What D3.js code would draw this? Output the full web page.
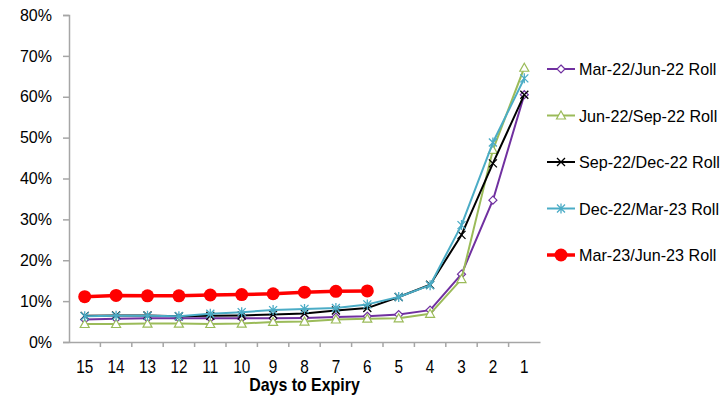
<!DOCTYPE html>
<html>
<head>
<meta charset="utf-8">
<script src="https://cdn.jsdelivr.net/npm/d3@7"></script>
<style>
  body { margin: 0; background: #fff; }
  text { font-family: "Liberation Sans", Arial, sans-serif; fill: #000; }
</style>
</head>
<body>
<svg id="chart" width="723" height="397"></svg>
<script>
// days to expiry (categories)
var days = ["15", "14", "13", "12", "11", "10", "9", "8", "7", "6", "5", "4", "3", "2", "1"];

// roll % values
var mar22jun22 = [5.5, 5.7, 5.8, 5.8, 5.8, 5.8, 5.8, 5.9, 6.1, 6.3, 6.7, 7.8, 16.6, 34.7, 60.5];
var jun22sep22 = [4.4, 4.4, 4.5, 4.5, 4.4, 4.5, 4.9, 5.0, 5.5, 5.7, 5.8, 6.9, 15.4, 47.0, 67.1];
var sep22dec22 = [6.4, 6.5, 6.5, 6.3, 6.4, 6.5, 6.7, 7.0, 7.7, 8.3, 11.0, 14.0, 26.2, 43.7, 60.5];
var dec22mar23 = [6.3, 6.4, 6.4, 6.3, 6.9, 7.3, 7.8, 8.1, 8.3, 9.2, 11.0, 13.9, 28.6, 48.8, 64.5];
var mar23jun23 = [11.1, 11.4, 11.3, 11.3, 11.5, 11.6, 11.8, 12.2, 12.4, 12.5];

var yTicks = [0, 10, 20, 30, 40, 50, 60, 70, 80];

var series = [
  { name: "Mar-22/Jun-22 Roll", values: mar22jun22, color: "#7030A0", marker: "diamond", width: 2 },
  { name: "Jun-22/Sep-22 Roll", values: jun22sep22, color: "#9BBB59", marker: "triangle", width: 2 },
  { name: "Sep-22/Dec-22 Roll", values: sep22dec22, color: "#000000", marker: "cross", width: 2 },
  { name: "Dec-22/Mar-23 Roll", values: dec22mar23, color: "#4BACC6", marker: "star", width: 2 },
  { name: "Mar-23/Jun-23 Roll", values: mar23jun23, color: "#FF0000", marker: "circle", width: 3.5 }
];

var svg = d3.select("#chart");

var x = d3.scaleBand().domain(days).range([69, 540]);
var y = d3.scaleLinear().domain([0, 80]).range([342, 15]);

// y axis
var yAxis = svg.append("g")
  .attr("transform", "translate(69,0)")
  .call(d3.axisLeft(y).tickValues(yTicks).tickSize(6).tickPadding(11).tickFormat(d => d + "%"));
yAxis.select(".domain").attr("stroke", "#A6A6A6").attr("stroke-width", 1.5);
yAxis.selectAll(".tick line").attr("stroke", "#A6A6A6").attr("stroke-width", 1.5);
yAxis.selectAll(".tick text").style("font-size", "16px").attr("fill", "#000");

// x axis: labels at band centres, tick marks at band edges
var xAxis = svg.append("g")
  .attr("transform", "translate(0,342)")
  .call(d3.axisBottom(x).tickSize(0).tickPadding(18));
xAxis.select(".domain").attr("stroke", "#A6A6A6").attr("stroke-width", 1.5);
xAxis.selectAll(".tick text")
  .style("font-size", "18px")
  .attr("transform", "scale(0.85,1)")
  .attr("fill", "#000");

svg.append("g").selectAll("line")
  .data(days.slice(1))
  .enter().append("line")
  .attr("x1", d => x(d)).attr("x2", d => x(d))
  .attr("y1", 342).attr("y2", 347)
  .attr("stroke", "#A6A6A6").attr("stroke-width", 1.5);

svg.append("text")
  .attr("transform", "translate(" + (x.range()[0] + x.range()[1]) / 2 + ",391) scale(0.91,1)")
  .attr("text-anchor", "middle")
  .style("font-size", "17.5px")
  .style("font-weight", "bold")
  .text("Days to Expiry");

// marker drawing
function drawMarker(g, type, color) {
  if (type === "diamond") {
    g.append("path").attr("d", "M0,-4L4,0L0,4L-4,0Z")
      .attr("fill", "#fff").attr("stroke", color).attr("stroke-width", 1.2);
  } else if (type === "triangle") {
    g.append("path").attr("d", "M0,-4.5L4.5,3.5L-4.5,3.5Z")
      .attr("fill", "#fff").attr("stroke", color).attr("stroke-width", 1.2);
  } else if (type === "cross") {
    g.append("path").attr("d", "M-4,-4L4,4M-4,4L4,-4")
      .attr("stroke", color).attr("stroke-width", 1.3);
  } else if (type === "star") {
    g.append("path").attr("d", "M-4,-4L4,4M-4,4L4,-4M0,-5L0,5")
      .attr("stroke", color).attr("stroke-width", 1.3);
  } else if (type === "circle") {
    g.append("circle").attr("r", 6.5).attr("fill", color);
  }
}

var line = d3.line()
  .x((d, i) => x(days[i]) + x.bandwidth() / 2)
  .y(d => y(d));

series.forEach(function (s) {
  var g = svg.append("g");
  g.append("path")
    .datum(s.values)
    .attr("d", line)
    .attr("fill", "none")
    .attr("stroke", s.color)
    .attr("stroke-width", s.width)
    .attr("stroke-linejoin", "round");

  s.values.forEach(function (v, i) {
    var m = g.append("g")
      .attr("transform", "translate(" + (x(days[i]) + x.bandwidth() / 2) + "," + y(v) + ")");
    drawMarker(m, s.marker, s.color);
  });
});

// legend
var legend = svg.append("g");
series.forEach(function (s, i) {
  var cy = 69 + i * 46.5;
  var item = legend.append("g");
  item.append("line")
    .attr("x1", 547).attr("x2", 575)
    .attr("y1", cy).attr("y2", cy)
    .attr("stroke", s.color).attr("stroke-width", s.width);
  var m = item.append("g").attr("transform", "translate(561," + cy + ")");
  drawMarker(m, s.marker, s.color);
  item.append("text")
    .attr("transform", "translate(579," + (cy + 6) + ") scale(0.95,1)")
    .style("font-size", "17px")
    .text(s.name);
});
</script>
</body>
</html>
